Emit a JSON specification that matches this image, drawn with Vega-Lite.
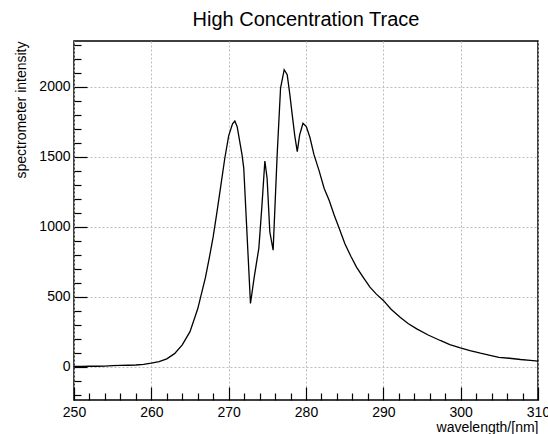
{
  "$schema": "https://vega.github.io/schema/vega-lite/v6.json",
  "width": 464,
  "height": 359,
  "autosize": "none",
  "padding": {"left": 74, "top": 41, "right": 10, "bottom": 34},
  "background": "white",
  "title": {"text": "High Concentration Trace", "fontSize": 20, "font": "Liberation Sans", "fontWeight": "normal", "color": "black", "anchor": "middle", "offset": 11},
  "config": {
    "view": {"stroke": "black", "strokeWidth": 1.5},
    "axis": {"labelFont": "Liberation Sans", "titleFont": "Liberation Sans", "labelFontSize": 14, "titleFontSize": 14, "labelColor": "black", "titleColor": "black", "titleFontWeight": "normal"}
  },
  "data": {"values": [
    {"wl": 250, "I": 3}, {"wl": 251, "I": 4}, {"wl": 252, "I": 5}, {"wl": 253, "I": 5}, {"wl": 254, "I": 6},
    {"wl": 255, "I": 10}, {"wl": 256, "I": 11}, {"wl": 257, "I": 12}, {"wl": 258, "I": 14}, {"wl": 259, "I": 18},
    {"wl": 260, "I": 27}, {"wl": 261, "I": 38}, {"wl": 262, "I": 58}, {"wl": 263, "I": 95}, {"wl": 264, "I": 158},
    {"wl": 265, "I": 252}, {"wl": 266, "I": 415}, {"wl": 267, "I": 640}, {"wl": 267.5, "I": 780}, {"wl": 268, "I": 930},
    {"wl": 268.5, "I": 1110}, {"wl": 269, "I": 1300}, {"wl": 269.5, "I": 1490}, {"wl": 270, "I": 1650}, {"wl": 270.5, "I": 1735},
    {"wl": 270.8, "I": 1755}, {"wl": 271.1, "I": 1715}, {"wl": 271.4, "I": 1620}, {"wl": 271.73, "I": 1514}, {"wl": 271.95, "I": 1420},
    {"wl": 272.82, "I": 453}, {"wl": 273.3, "I": 640}, {"wl": 273.9, "I": 847}, {"wl": 274.3, "I": 1150}, {"wl": 274.68, "I": 1470},
    {"wl": 274.97, "I": 1347}, {"wl": 275.32, "I": 965}, {"wl": 275.75, "I": 834}, {"wl": 276.27, "I": 1514}, {"wl": 276.71, "I": 1991},
    {"wl": 277.18, "I": 2122}, {"wl": 277.57, "I": 2086}, {"wl": 277.9, "I": 1950}, {"wl": 278.22, "I": 1800}, {"wl": 278.55, "I": 1650},
    {"wl": 278.87, "I": 1537}, {"wl": 279.18, "I": 1657}, {"wl": 279.61, "I": 1740}, {"wl": 280.04, "I": 1716}, {"wl": 280.5, "I": 1640},
    {"wl": 281.04, "I": 1514}, {"wl": 281.7, "I": 1400}, {"wl": 282.34, "I": 1276}, {"wl": 282.99, "I": 1190}, {"wl": 283.64, "I": 1085},
    {"wl": 284.29, "I": 990}, {"wl": 285.03, "I": 880}, {"wl": 285.8, "I": 790}, {"wl": 286.53, "I": 713}, {"wl": 287.4, "I": 640},
    {"wl": 288.27, "I": 570}, {"wl": 289.1, "I": 520}, {"wl": 290, "I": 475}, {"wl": 291, "I": 412}, {"wl": 292.17, "I": 355},
    {"wl": 293.2, "I": 310}, {"wl": 294.32, "I": 272}, {"wl": 295.8, "I": 228}, {"wl": 297.36, "I": 189}, {"wl": 298.6, "I": 160},
    {"wl": 299.96, "I": 136}, {"wl": 301.2, "I": 117}, {"wl": 302.56, "I": 98}, {"wl": 303.8, "I": 83}, {"wl": 304.94, "I": 69},
    {"wl": 306.3, "I": 62}, {"wl": 307.75, "I": 53}, {"wl": 309, "I": 47}, {"wl": 310, "I": 42}
  ]},
  "layer": [
    {
      "mark": {"type": "line", "color": "black", "strokeWidth": 1.3},
      "encoding": {
        "x": {"field": "wl", "type": "quantitative", "scale": {"domain": [250, 310], "nice": false, "zero": false},
          "axis": {"orient": "bottom", "values": [250, 260, 270, 280, 290, 300, 310], "ticks": false, "labelPadding": 5, "grid": true, "gridDash": [2, 2], "gridColor": "#bdbdbd", "gridWidth": 1, "domain": false, "title": "wavelength/[nm]", "titleAnchor": "end", "titleAlign": "right", "titlePadding": 1, "labelFlush": false, "format": "d"}},
        "y": {"field": "I", "type": "quantitative", "scale": {"domain": [-236, 2327], "nice": false, "zero": false},
          "axis": {"orient": "left", "values": [0, 500, 1000, 1500, 2000], "ticks": false, "labelPadding": 4, "grid": true, "gridDash": [2, 2], "gridColor": "#bdbdbd", "gridWidth": 1, "domain": false, "title": "spectrometer intensity", "titleAnchor": "end", "titleAlign": "right", "titlePadding": 10, "labelFlush": false, "format": "d"}}
      }
    },
    {
      "mark": {"type": "line", "strokeOpacity": 0},
      "encoding": {
        "x": {"field": "wl", "type": "quantitative",
          "axis": {"orient": "top", "offset": -359, "zindex": 3, "values": [250, 252, 254, 256, 258, 260, 262, 264, 266, 268, 270, 272, 274, 276, 278, 280, 282, 284, 286, 288, 290, 292, 294, 296, 298, 300, 302, 304, 306, 308, 310], "ticks": true, "tickSize": {"condition": {"test": "datum.value % 10 === 0", "value": 13}, "value": 7}, "tickColor": "#000000", "tickWidth": 1.2, "labels": false, "grid": false, "domain": false, "title": null}},
        "y": {"field": "I", "type": "quantitative",
          "axis": {"orient": "right", "offset": -464, "zindex": 3, "values": [-200, -100, 0, 100, 200, 300, 400, 500, 600, 700, 800, 900, 1000, 1100, 1200, 1300, 1400, 1500, 1600, 1700, 1800, 1900, 2000, 2100, 2200, 2300], "ticks": true, "tickSize": {"condition": {"test": "datum.value % 500 === 0", "value": 13}, "value": 7}, "tickColor": "#000000", "tickWidth": 1.2, "labels": false, "grid": false, "domain": false, "title": null}}
      }
    }
  ],
  "resolve": {"axis": {"x": "independent", "y": "independent"}}
}
